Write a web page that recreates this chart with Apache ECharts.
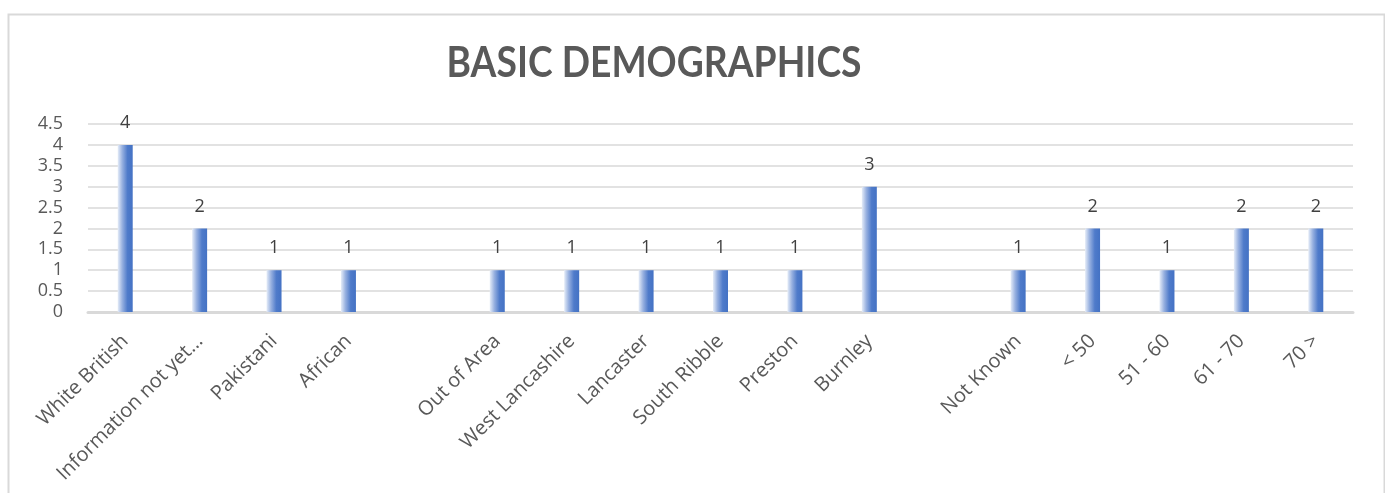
<!DOCTYPE html>
<html>
<head>
<meta charset="utf-8">
<title>Basic Demographics</title>
<script src="https://cdn.jsdelivr.net/npm/echarts@6/dist/echarts.min.js"></script>
<style>
  html, body { margin: 0; padding: 0; background: #ffffff; }
  #chart { width: 1385px; height: 493px; }
</style>
</head>
<body>
<div id="chart"></div>
<script>
// Categories in three groups (ethnicity, area, age band), separated by blank slots
const categories = [
  'White British', 'Information not yet…', 'Pakistani', 'African', '',
  'Out of Area', 'West Lancashire', 'Lancaster', 'South Ribble', 'Preston', 'Burnley', '',
  'Not Known', '< 50', '51 - 60', '61 - 70', '70 >'
];
const counts = [4, 2, 1, 1, null, 1, 1, 1, 1, 1, 3, null, 1, 2, 1, 2, 2];
const yTicks = { min: 0, max: 4.5, step: 0.5 };
const chartTitle = 'BASIC DEMOGRAPHICS';

const chart = echarts.init(document.getElementById('chart'), null, { renderer: 'canvas' });

const textColor = '#595959';
const font = '"Open Sans", "Noto Sans", sans-serif';

chart.setOption({
  animation: false,
  backgroundColor: '#ffffff',
  graphic: [{
    // frame around the chart area
    type: 'rect',
    left: 6, top: 12,
    shape: { width: 1376, height: 520 },
    style: { fill: 'none', stroke: '#d9d9d9', lineWidth: 2 },
    silent: true
  }, {
    // chart heading, slightly condensed
    type: 'text',
    x: 654, y: 63,
    scaleX: 0.887,
    style: {
      text: chartTitle,
      align: 'center', verticalAlign: 'middle',
      fill: textColor,
      font: 'bold 42px Lato, "Open Sans", sans-serif'
    },
    silent: true
  }],
  grid: { left: 88, right: 32, top: 124, bottom: 181, containLabel: false },
  xAxis: {
    type: 'category',
    data: categories,
    axisLine: { show: true, lineStyle: { color: '#d9d9d9', width: 3 } },
    axisTick: { show: false },
    axisLabel: {
      interval: 0, rotate: 45, margin: 26,
      color: textColor, fontFamily: font, fontSize: 20
    }
  },
  yAxis: {
    type: 'value',
    min: yTicks.min, max: yTicks.max, interval: yTicks.step,
    axisLine: { show: false },
    axisTick: { show: false },
    splitLine: { lineStyle: { color: '#d9d9d9', width: 1.5 } },
    axisLabel: { color: textColor, fontFamily: font, fontSize: 18, margin: 25, lineHeight: 18 }
  },
  series: [{
    type: 'bar',
    data: counts,
    barWidth: 15,
    itemStyle: {
      color: new echarts.graphic.LinearGradient(0, 0, 1, 0, [
        { offset: 0, color: '#e6edf8' },
        { offset: 0.3, color: '#98b1e0' },
        { offset: 0.65, color: '#4f7bca' },
        { offset: 1, color: '#4472c4' }
      ])
    },
    label: {
      show: true, position: 'top', distance: 13,
      color: '#404040', fontFamily: font, fontSize: 18
    }
  }]
});
</script>
</body>
</html>
